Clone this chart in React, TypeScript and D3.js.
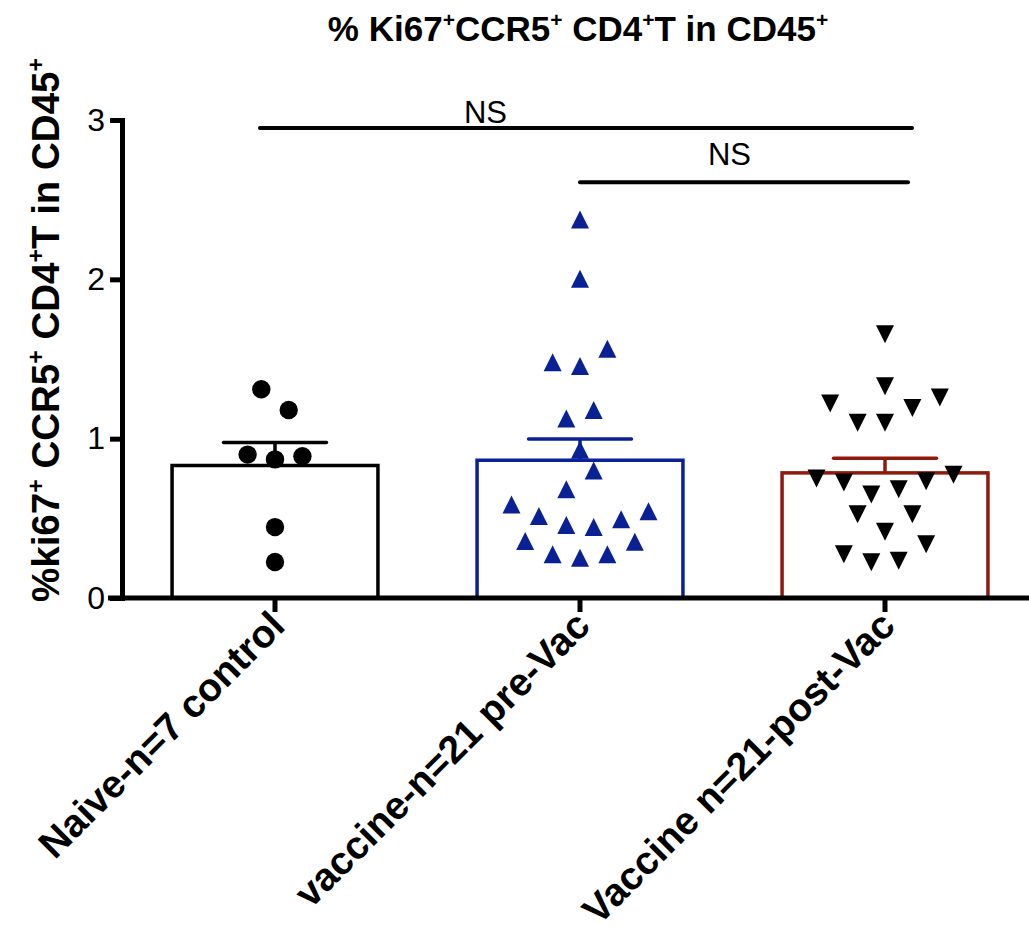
import * as d3 from "d3";
import React, { useEffect, useRef } from "react";

// groups on the x axis
const groups = ["Naive-n=7 control", "vaccine-n=21 pre-Vac", "Vaccine n=21-post-Vac"];

// % ki67+ CCR5+ CD4+T in CD45+, one value per animal
const naiveControl = [1.31, 1.18, 0.87, 0.9, 0.89, 0.445, 0.226];
const vaccinePre = [
  2.376, 2.004, 1.456, 1.48, 1.565, 1.127, 1.18, 0.93, 0.683, 0.8, 0.458,
  0.445, 0.514, 0.495, 0.587, 0.545, 0.253, 0.274, 0.274, 0.357, 0.353
];
const vaccinePost = [
  1.655, 1.329, 1.1, 1.1, 1.193, 1.221, 1.258, 0.65, 0.683, 0.725, 0.733,
  0.75, 0.773, 0.416, 0.525, 0.525, 0.224, 0.234, 0.274, 0.337
];

const yTicks = [0, 1, 2, 3];

// significance brackets
const comparisons = [
  { from: 0, to: 2, value: 2.95, label: "NS", labelAt: 0.69 },
  { from: 1, to: 2, value: 2.61, label: "NS", labelAt: 1.49 }
];

const width = 1029;
const height = 939;
const font = "'Liberation Sans', Arial, Helvetica, sans-serif";

const series = [
  { values: naiveControl, stroke: "#000000", fill: "#000000", marker: "circle" },
  { values: vaccinePre, stroke: "#0a2196", fill: "#0a2196", marker: "up" },
  { values: vaccinePost, stroke: "#8e1a0e", fill: "#000000", marker: "down" }
];

const triUp = {
  draw(ctx: any, size: number) {
    const w = Math.sqrt(size);
    ctx.moveTo(0, -w / 2);
    ctx.lineTo(w / 2, w / 2);
    ctx.lineTo(-w / 2, w / 2);
    ctx.closePath();
  }
};
const triDown = {
  draw(ctx: any, size: number) {
    const w = Math.sqrt(size);
    ctx.moveTo(0, w / 2);
    ctx.lineTo(w / 2, -w / 2);
    ctx.lineTo(-w / 2, -w / 2);
    ctx.closePath();
  }
};

// prism-like scatter: points close in value share a row, spread from the centre out
function swarm(values: number[], threshold: number, step: number) {
  const order = d3.range(values.length).sort((a, b) => values[a] - values[b] || a - b);
  const rows: number[][] = [];
  let row: number[] = [];
  for (const i of order) {
    if (row.length && values[i] - values[row[0]] > threshold) {
      rows.push(row);
      row = [];
    }
    row.push(i);
  }
  if (row.length) rows.push(row);
  const offsets = new Array(values.length).fill(0);
  for (const r of rows) {
    r.sort((a, b) => a - b);
    const n = r.length;
    r.forEach((idx, k) => {
      let slot;
      if (n % 2 === 1) slot = k === 0 ? 0 : (k % 2 === 1 ? -1 : 1) * 2 * Math.ceil(k / 2);
      else slot = (k % 2 === 0 ? -1 : 1) * (2 * Math.floor(k / 2) + 1);
      offsets[idx] = slot * step;
    });
  }
  return offsets;
}

function Sup({ parts, size }: { parts: string[]; size: number }) {
  // parts alternate: normal text, superscript, normal, superscript...
  const shift = size * 0.4;
  return (
    <>
      {parts.map((p, i) =>
        i % 2 === 0 ? (
          <tspan key={i} dy={i === 0 ? 0 : shift} fontSize={size}>{p}</tspan>
        ) : (
          <tspan key={i} dy={-shift} fontSize={size * 0.6}>{p}</tspan>
        )
      )}
    </>
  );
}

export default function App() {
  const yAxisRef = useRef<SVGGElement>(null);
  const xAxisRef = useRef<SVGGElement>(null);

  const x = d3.scaleBand().domain(groups).range([122.5, 1037.5]).padding(0);
  const y = d3.scaleLinear().domain([0, 3]).range([598, 120]);

  const center = (i: number) => (x(groups[i]) as number) + x.bandwidth() / 2;
  const barWidth = x.bandwidth() * 0.675;

  useEffect(() => {
    const ya = d3.select(yAxisRef.current);
    ya.call(
      d3.axisLeft(y).tickValues(yTicks).tickSize(12).tickSizeOuter(0).tickPadding(5).tickFormat(d3.format("d")) as any
    );
    ya.attr("font-family", font).attr("font-size", 32);
    ya.select(".domain").attr("stroke-width", 5).attr("stroke-linecap", "square");
    ya.selectAll(".tick line").attr("stroke-width", 5);
    ya.selectAll(".tick text").attr("fill", "#000");

    const xa = d3.select(xAxisRef.current);
    xa.call(d3.axisBottom(x).tickSize(14).tickSizeOuter(0) as any);
    xa.select(".domain").remove();
    xa.attr("font-family", font).attr("font-size", 39).attr("font-weight", "bold");
    xa.selectAll(".tick line").attr("stroke-width", 5);
    xa.selectAll(".tick text")
      .attr("x", 0)
      .attr("y", 0)
      .attr("dy", 0)
      .attr("fill", "#000")
      .attr("text-anchor", "end")
      .attr("transform", "translate(12,30) rotate(-45)");
  }, []);

  return (
    <svg width={width} height={height} style={{ position: "absolute", left: 0, top: 0, background: "#fff" }}>
      <text x={578} y={41} textAnchor="middle" fontFamily={font} fontWeight="bold">
        <Sup parts={["% Ki67", "+", "CCR5", "+", " CD4", "+", "T in CD45", "+"]} size={35} />
      </text>

      <text
        transform={`translate(59,330) rotate(-90)`}
        textAnchor="middle"
        fontFamily={font}
        fontWeight="bold"
      >
        <Sup parts={["%ki67", "+", " CCR5", "+", " CD4", "+", "T in CD45", "+"]} size={38.5} />
      </text>

      {series.map((s, i) => {
        const m = d3.mean(s.values) as number;
        const sem = (d3.deviation(s.values) as number) / Math.sqrt(s.values.length);
        const cx = center(i);
        const offsets = swarm(s.values, 0.175, 13.7);
        const sym =
          s.marker === "circle"
            ? d3.symbol(d3.symbolCircle, Math.PI * 9.2 * 9.2)
            : d3.symbol(s.marker === "up" ? (triUp as any) : (triDown as any), 18 * 18);
        return (
          <g key={groups[i]}>
            <rect
              x={cx - barWidth / 2}
              y={y(m)}
              width={barWidth}
              height={y(0) - y(m)}
              fill="#fff"
              stroke={s.stroke}
              strokeWidth={3.5}
            />
            <line x1={cx} x2={cx} y1={y(m)} y2={y(m + sem)} stroke={s.stroke} strokeWidth={3.5} />
            <line
              x1={cx - barWidth / 4}
              x2={cx + barWidth / 4}
              y1={y(m + sem)}
              y2={y(m + sem)}
              stroke={s.stroke}
              strokeWidth={3.5}
              strokeLinecap="round"
            />
            {s.values.map((v, j) => (
              <path key={j} d={sym() as string} transform={`translate(${cx + offsets[j]},${y(v)})`} fill={s.fill} />
            ))}
          </g>
        );
      })}

      {comparisons.map((c, i) => (
        <g key={i}>
          <line
            x1={center(c.from) - (c.from === 0 ? 15 : 0)}
            x2={center(c.to) + (c.from === 0 ? 27 : 23)}
            y1={y(c.value)}
            y2={y(c.value)}
            stroke="#000"
            strokeWidth={4}
            strokeLinecap="round"
          />
          <text
            x={center(0) + c.labelAt * x.bandwidth()}
            y={y(c.value) - (c.from === 0 ? 5 : 17)}
            textAnchor="middle"
            fontFamily={font}
            fontSize={31}
          >
            {c.label}
          </text>
        </g>
      ))}

      <line x1={108} x2={width} y1={y(0)} y2={y(0)} stroke="#000" strokeWidth={5} />
      <g ref={xAxisRef} transform={`translate(0,${y(0)})`} />
      <g ref={yAxisRef} transform="translate(122,0)" />
    </svg>
  );
}
